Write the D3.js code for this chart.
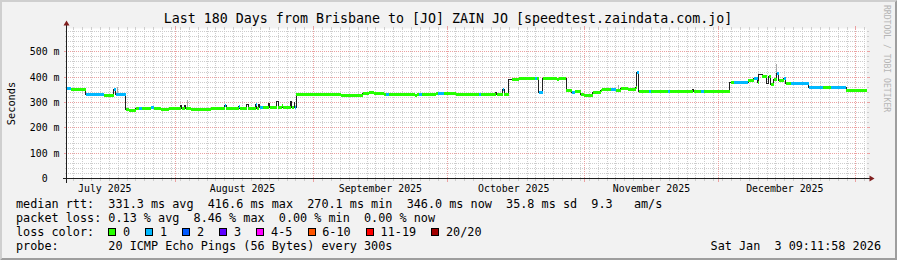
<!DOCTYPE html>
<html>
<head>
<meta charset="utf-8">
<script src="https://cdn.jsdelivr.net/npm/d3@7"></script>
<style>
  html, body { margin: 0; padding: 0; background: #f2f2f2; }
  svg { display: block; }
  text { font-family: "DejaVu Sans Mono", monospace; white-space: pre; }
</style>
</head>
<body>
<div id="chart"></div>
<script>
const titleText = "Last 180 Days from Brisbane to [JO] ZAIN JO [speedtest.zaindata.com.jo]";
// end of the graph, Brisbane local time (kept as UTC so there is no DST shift)
const endTime = Date.UTC(2026, 0, 3, 9, 11, 58);
const spanDays = 180;
const yMax = 592;
const yMajor = [0, 100, 200, 300, 400, 500];
const yMinorStep = 20;

// median rtt as steps: start day (offset from graph start), value in ms, loss bucket
const medDay = [0.00, 0.90, 4.28, 8.33, 10.64, 11.03, 13.28, 13.95, 15.53, 16.20, 16.88, 18.90, 19.58,
  21.15, 22.95, 25.65, 25.88, 26.55, 26.78, 27.90, 32.40, 35.55, 35.89, 38.70, 38.93, 40.61, 40.84,
  42.53, 42.75, 43.20, 43.43, 44.10, 45.45, 45.68, 47.36, 47.59, 48.49, 48.71, 50.40, 50.63, 51.19,
  51.41, 51.64, 61.65, 66.60, 67.95, 69.08, 71.33, 71.78, 72.45, 78.30, 78.75, 79.20, 79.88, 83.03,
  83.48, 84.83, 87.53, 92.70, 93.15, 96.53, 96.75, 98.10, 98.44, 99.56, 100.13, 101.70, 105.30,
  105.75, 106.31, 107.21, 110.25, 110.70, 112.39, 113.63, 114.30, 115.65, 116.33, 118.46, 120.15,
  120.49, 122.40, 123.53, 124.65, 126.23, 128.03, 128.36, 128.81, 130.95, 131.40, 135.23, 135.68,
  140.85, 141.08, 142.65, 143.33, 149.18, 149.51, 150.08, 153.34, 154.58, 155.48, 155.81, 156.49,
  157.50, 157.95, 158.40, 159.08, 159.75, 160.31, 161.33, 161.78, 162.90, 166.95, 170.10, 171.90,
  175.39];
const medMs = [356, 351, 330, 327, 352, 331, 273, 270, 278, 278, 277, 279, 277,
  274, 276, 290, 275, 288, 275, 273, 275, 290, 277, 285, 277, 293, 277,
  292, 278, 294, 279, 279, 295, 279, 303, 280, 290, 279, 303, 279, 298,
  281, 331, 326, 336, 340, 336, 332, 332, 332, 327, 332, 332, 332, 334,
  334, 334, 331, 331, 331, 338, 331, 352, 331, 392, 390, 395, 395,
  395, 338, 393, 390, 393, 347, 341, 344, 333, 326, 338, 347,
  352, 352, 347, 355, 352, 360, 417, 343, 343, 344, 344, 345,
  352, 345, 345, 345, 378, 378, 378, 388, 396, 378, 410, 404,
  376, 402, 372, 392, 414, 388, 396, 374, 376, 360, 360, 360,
  348];
const medLoss = [1, 0, 1, 0, 1, 1, 0, 0, 0, 1, 0, 1, 0,
  0, 0, null, 0, null, 0, 0, 0, 1, 0, 1, 0, null, 0,
  1, 0, null, 1, 0, null, 0, null, 0, 0, 0, null, 0, null,
  1, 0, 0, 0, 0, 0, 0, 1, 0, 0, 0, 1, 0, 0,
  1, 0, 0, 1, 0, null, 0, 1, 0, null, 0, 0, 1,
  0, 1, 0, 0, 0, 0, 1, 0, 0, 0, 0, 0,
  0, 1, 0, 0, 0, 0, 1, 0, 1, 0, 1, 0,
  null, 0, 1, 0, null, 0, 1, 0, 1, 0, null, 0,
  null, 0, 0, 0, 1, 0, 1, 0, 1, 1, 0, 1,
  0];

// a few visible smoke streaks above the median
const smokeDay = [11.40, 27.15, 124.13, 159.64];
const smokeTop = [362, 310, 369, 450];

const lossLabels = ["0", "1", "2", "3", "4-5", "6-10", "11-19", "20/20"];
const lossColors = ["#26ff00", "#00b8ff", "#0059ff", "#5e00ff", "#ff00ff", "#ff5500", "#ff0000", "#a10000"];

const legendLines = [
  "median rtt:  331.3 ms avg  416.6 ms max  270.1 ms min  346.0 ms now  35.8 ms sd  9.3   am/s",
  "packet loss: 0.13 % avg  8.46 % max  0.00 % min  0.00 % now",
  "loss color:",
  "probe:       20 ICMP Echo Pings (56 Bytes) every 300s"
];
const stampText = "Sat Jan  3 09:11:58 2026";
const watermark = "RRDTOOL / TOBI OETIKER";

const W = 897, H = 260;
const X0 = 66.5, X1 = 866.5, Y0 = 178.5, Y1 = 28.5;
const gridCol = "#cdcdcd", mgridCol = "#eba1a1";
const axisCol = "#1f1f1f", arrowCol = "#801f1f";

const startTime = endTime - spanDays * 864e5;
const toDate = (d) => new Date(startTime + d * 864e5);
const snap = (v) => Math.floor(v) + 0.5;

const svg = d3.select("#chart").append("svg").attr("width", W).attr("height", H);

// background and 3d frame
svg.append("rect").attr("width", W).attr("height", H).attr("fill", "#f2f2f2");
svg.append("path").attr("fill", "#cfcfcf")
  .attr("d", `M0,0H${W}L${W - 2},2H2V${H - 2}L0,${H}Z`);
svg.append("path").attr("fill", "#9e9e9e")
  .attr("d", `M${W},0V${H}H0L2,${H - 2}H${W - 2}V2Z`);

const x = d3.scaleUtc().domain([new Date(startTime), new Date(endTime)]).range([X0, X1]);
const y = d3.scaleLinear().domain([0, yMax]).range([Y0, Y1]);

svg.append("rect").attr("x", X0).attr("y", Y1).attr("width", X1 - X0).attr("height", Y0 - Y1).attr("fill", "#fff");

const grid = svg.append("g").attr("shape-rendering", "crispEdges").attr("stroke-width", 1);

// dotted lines start on whole pixels so every dash covers exactly one pixel
function vDots(xx, col) {
  grid.append("line").attr("x1", xx).attr("x2", xx).attr("y1", Y0 - 0.5).attr("y2", Y1 - 0.5)
    .attr("stroke", col).attr("stroke-dasharray", "1,1");
}
function hDots(yy, col) {
  grid.append("line").attr("x1", X0 - 0.5).attr("x2", X1 - 0.5).attr("y1", yy).attr("y2", yy)
    .attr("stroke", col).attr("stroke-dasharray", "1,1");
}

// vertical grid: every 2 days (minor), month starts (major)
const months = d3.utcMonth.range(new Date(startTime), new Date(endTime));
const majorSet = new Set(months.map((m) => +m));
const minorDays = d3.utcDay.range(d3.utcDay.floor(new Date(startTime)), new Date(endTime))
  .filter((d, i) => i % 2 === 0)
  .filter((d) => +d > startTime && !majorSet.has(+d));

minorDays.forEach((d) => {
  const xx = snap(x(d));
  vDots(xx, gridCol);
  grid.append("line").attr("x1", xx).attr("x2", xx).attr("y1", Y0 - 0.5).attr("y2", Y0 + 2).attr("stroke", gridCol);
  grid.append("line").attr("x1", xx).attr("x2", xx).attr("y1", Y1 + 0.5).attr("y2", Y1 - 2).attr("stroke", gridCol);
});

// horizontal grid
d3.range(yMinorStep, yMax, yMinorStep).filter((v) => v % 100 !== 0).forEach((v) => {
  const yy = snap(y(v));
  hDots(yy, gridCol);
  grid.append("line").attr("x1", X0 - 2).attr("x2", X0).attr("y1", yy).attr("y2", yy).attr("stroke", gridCol);
  grid.append("line").attr("x1", X1).attr("x2", X1 + 2).attr("y1", yy).attr("y2", yy).attr("stroke", gridCol);
});

months.forEach((d) => {
  const xx = snap(x(d));
  vDots(xx, mgridCol);
  grid.append("line").attr("x1", xx).attr("x2", xx).attr("y1", Y0 - 0.5).attr("y2", Y0 + 3).attr("stroke", mgridCol);
  grid.append("line").attr("x1", xx).attr("x2", xx).attr("y1", Y1 + 0.5).attr("y2", Y1 - 3).attr("stroke", mgridCol);
});

yMajor.forEach((v) => {
  const yy = snap(y(v));
  if (v > 0) hDots(yy, mgridCol);
  grid.append("line").attr("x1", X0 - 3).attr("x2", X0).attr("y1", yy).attr("y2", yy).attr("stroke", mgridCol);
  grid.append("line").attr("x1", X1).attr("x2", X1 + 3).attr("y1", yy).attr("y2", yy).attr("stroke", mgridCol);
});

// y labels
svg.append("g").selectAll("text").data(yMajor).join("text")
  .attr("x", 59.5).attr("y", (d) => snap(y(d)) + 3.6)
  .attr("text-anchor", "end").attr("font-size", 9.9).attr("fill", "#000")
  .text((d) => d === 0 ? "0  " : d + " m");

// x labels at mid-month
const labelMonths = d3.utcMonth.range(d3.utcMonth.floor(new Date(startTime)), new Date(endTime))
  .map((m) => ({ m, mid: d3.utcDay.offset(m, 15) }))
  .filter((d) => +d.mid > startTime && +d.mid < endTime);
svg.append("g").selectAll("text").data(labelMonths).join("text")
  .attr("x", (d) => x(d.mid)).attr("y", 191.5)
  .attr("text-anchor", "middle").attr("font-size", 9.9).attr("fill", "#000")
  .text((d) => d3.utcFormat("%B %Y")(d.m));

// smoke
const plot = svg.append("g").attr("shape-rendering", "crispEdges");
const medianAt = (d) => medMs[d3.bisectRight(medDay, d) - 1];
smokeDay.forEach((d, i) => {
  const xx = snap(x(toDate(d)));
  plot.append("line").attr("x1", xx).attr("x2", xx)
    .attr("y1", y(medianAt(d))).attr("y2", y(smokeTop[i]))
    .attr("stroke", "#a8a8a8").attr("stroke-width", 1);
});

// thin dark median line
const pts = medDay.map((d, i) => [x(toDate(d)), y(medMs[i])]);
pts.push([X1, y(medMs[medMs.length - 1])]);
plot.append("path")
  .attr("d", d3.line().curve(d3.curveStepAfter)(pts))
  .attr("fill", "none").attr("stroke", "#202020").attr("stroke-width", 1);

// loss-coloured segments
medDay.forEach((d, i) => {
  if (medLoss[i] === null) return;
  const x1 = x(toDate(d));
  const x2 = i + 1 < medDay.length ? x(toDate(medDay[i + 1])) : X1;
  plot.append("line").attr("x1", x1).attr("x2", x2)
    .attr("y1", y(medMs[i])).attr("y2", y(medMs[i]))
    .attr("stroke", lossColors[medLoss[i]]).attr("stroke-width", 3);
});

// axes with arrows
const axes = svg.append("g").attr("shape-rendering", "crispEdges");
axes.append("line").attr("x1", X0 - 4).attr("x2", X1 + 4).attr("y1", Y0).attr("y2", Y0).attr("stroke", axisCol);
axes.append("line").attr("x1", X0).attr("x2", X0).attr("y1", Y0 + 4).attr("y2", Y1 - 4).attr("stroke", axisCol);
svg.append("path").attr("fill", arrowCol)
  .attr("d", `M${X1 + 3},${Y0 - 3}L${X1 + 8},${Y0}L${X1 + 3},${Y0 + 3}Z`);
svg.append("path").attr("fill", arrowCol)
  .attr("d", `M${X0 - 3},${Y1 - 3}L${X0},${Y1 - 8}L${X0 + 3},${Y1 - 3}Z`);

// title, unit label, watermark
svg.append("text").attr("x", 448).attr("y", 23).attr("text-anchor", "middle")
  .attr("font-size", 13.3).attr("fill", "#000").text(titleText);
svg.append("text").attr("transform", `translate(15,${(Y0 + Y1) / 2}) rotate(-90)`)
  .attr("text-anchor", "middle").attr("font-size", 10.3).attr("fill", "#000").text("Seconds");
svg.append("text").attr("transform", "translate(884,5) rotate(90)")
  .attr("font-size", 8.1).attr("fill", "#b5b5b5").text(watermark);

// legend
const legendFs = 11.8, charW = legendFs * 0.602;
const rowY = [208.3, 221.8, 236, 250];
svg.append("g").selectAll("text").data(legendLines).join("text")
  .attr("x", 16).attr("y", (d, i) => rowY[i])
  .attr("font-size", legendFs).attr("fill", "#000").text((d) => d);

let bx = 16 + 13 * charW;
lossLabels.forEach((lab, i) => {
  svg.append("rect").attr("x", Math.round(bx) + 0.5).attr("y", 228.5).attr("width", 7).attr("height", 7)
    .attr("fill", lossColors[i]).attr("stroke", "#000").attr("stroke-width", 1)
    .attr("shape-rendering", "crispEdges");
  svg.append("text").attr("x", bx + 14.7).attr("y", rowY[2])
    .attr("font-size", legendFs).attr("fill", "#000").text(lab);
  bx += 14.7 + lab.length * charW + 15.2;
});

svg.append("text").attr("x", 881).attr("y", rowY[3]).attr("text-anchor", "end")
  .attr("font-size", legendFs).attr("fill", "#000").text(stampText);
</script>
</body>
</html>
